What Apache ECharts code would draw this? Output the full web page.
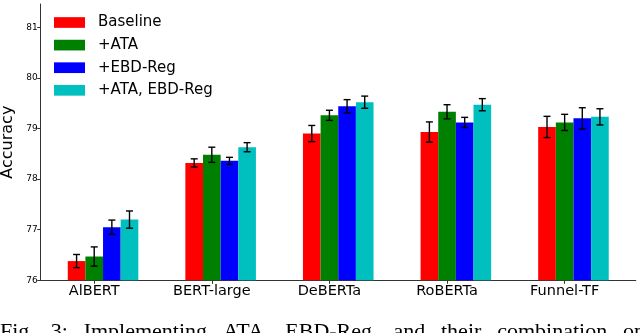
<!DOCTYPE html>
<html>
<head>
<meta charset="utf-8">
<script src="https://cdn.jsdelivr.net/npm/echarts@6/dist/echarts.min.js"></script>
<style>
  html, body { margin: 0; padding: 0; background: #fff; }
  #chart { width: 640px; height: 333px; }
</style>
</head>
<body>
<div id="chart"></div>
<script>
// ---- data ----
const categories = ['AlBERT', 'BERT-large', 'DeBERTa', 'RoBERTa', 'Funnel-TF'];
const seriesNames = ['Baseline', '+ATA', '+EBD-Reg', '+ATA, EBD-Reg'];
const baseline    = [76.38, 78.32, 78.90, 78.93, 79.03];
const baselineErr = [0.13, 0.08, 0.16, 0.20, 0.21];
const ata         = [76.47, 78.48, 79.26, 79.33, 79.12];
const ataErr      = [0.19, 0.15, 0.10, 0.14, 0.16];
const ebd         = [77.05, 78.36, 79.44, 79.12, 79.20];
const ebdErr      = [0.14, 0.07, 0.13, 0.10, 0.21];
const both        = [77.20, 78.63, 79.52, 79.47, 79.23];
const bothErr     = [0.17, 0.09, 0.12, 0.12, 0.16];
const yTicks = [76, 77, 78, 79, 80, 81];
const captionWords = ['Fig.', '3:', 'Implementing', 'ATA,', 'EBD-Reg,', 'and', 'their', 'combination', 'on'];

// ---- styling ----
const colors = ['#ff0000', '#008000', '#0000ff', '#00bfbf'];
const BAR_W = 0.15; // bar width in axis units
const values = [baseline, ata, ebd, both];
const errs = [baselineErr, ataErr, ebdErr, bothErr];

const chart = echarts.init(document.getElementById('chart'), null, { renderer: 'canvas' });

const series = [];
values.forEach((vals, k) => {
  series.push({
    name: seriesNames[k],
    type: 'bar',
    data: categories.map((c, i) => [i, vals[i]]),
    barWidth: (BAR_W * 100) + '%',
    barGap: '0%',
    itemStyle: { color: colors[k] },
    emphasis: { disabled: true },
    z: 2
  });
});
values.forEach((vals, k) => {
  series.push({
    name: seriesNames[k] + ' err',
    type: 'custom',
    data: categories.map((c, i) => [i, vals[i] - errs[k][i], vals[i] + errs[k][i]]),
    encode: { x: 0, y: [1, 2] },
    z: 5,
    silent: true,
    renderItem: function (params, api) {
      const x = api.value(0) + (k - 1.5) * BAR_W;
      const lo = api.coord([x, api.value(1)]);
      const hi = api.coord([x, api.value(2)]);
      const half = 3.5;
      const style = { stroke: '#000', lineWidth: 1.4 };
      return {
        type: 'group',
        children: [
          { type: 'line', shape: { x1: lo[0], y1: lo[1], x2: hi[0], y2: hi[1] }, style },
          { type: 'line', shape: { x1: lo[0] - half, y1: lo[1], x2: lo[0] + half, y2: lo[1] }, style },
          { type: 'line', shape: { x1: hi[0] - half, y1: hi[1], x2: hi[0] + half, y2: hi[1] }, style }
        ]
      };
    }
  });
});

// caption laid out justified across the width (text only)
const capFont = '22px "Liberation Serif"';
const ctx = document.createElement('canvas').getContext('2d');
ctx.font = capFont;
const widths = captionWords.map(w => ctx.measureText(w).width);
const lineW = 645;
const gap = (lineW - widths.reduce((a, b) => a + b, 0)) / (captionWords.length - 1);
let cx = 0;
const captionGraphics = captionWords.map((w, i) => {
  const g = { type: 'text', x: cx, y: 321, style: { text: w, font: capFont, fill: '#000' } };
  cx += widths[i] + gap;
  return g;
});

const font = 'DejaVu Sans';
chart.setOption({
  animation: false,
  backgroundColor: '#fff',
  textStyle: { fontFamily: font },
  grid: { left: 40.7, right: 4.2, top: 4, bottom: 52.7, containLabel: false, outerBoundsMode: 'none' },
  legend: {
    data: seriesNames,
    orient: 'vertical',
    left: 54,
    top: 15,
    padding: 0,
    itemWidth: 31,
    itemHeight: 10.7,
    itemGap: 7.6,
    icon: 'rect',
    textStyle: { fontFamily: font, fontSize: 15, color: '#000', padding: [0, 0, 0, 8] },
    selectedMode: false
  },
  xAxis: {
    type: 'value',
    min: -0.53,
    max: 4.53,
    splitLine: { show: false },
    axisLine: { show: true, onZero: false, lineStyle: { color: '#333', width: 1 } },
    axisTick: {
      show: true, length: 3.5, lineStyle: { color: '#333' },
      customValues: categories.map((c, i) => i - BAR_W / 2)
    },
    axisLabel: {
      fontFamily: font, fontSize: 14.5, color: '#000', margin: 3,
      customValues: categories.map((c, i) => i - BAR_W / 2),
      formatter: v => categories[Math.round(v + BAR_W / 2)]
    }
  },
  yAxis: {
    type: 'value',
    min: yTicks[0],
    max: 81.46,
    interval: 1,
    name: 'Accuracy',
    nameLocation: 'middle',
    nameGap: 8,
    nameTextStyle: { fontFamily: font, fontSize: 16, color: '#000' },
    splitLine: { show: false },
    axisLine: { show: true, onZero: false, lineStyle: { color: '#333', width: 1 } },
    axisTick: { show: true, length: 3.5, lineStyle: { color: '#333' }, customValues: yTicks },
    axisLabel: { fontFamily: font, fontSize: 9, color: '#000', margin: 3, customValues: yTicks }
  },
  graphic: captionGraphics,
  series
});
</script>
</body>
</html>
